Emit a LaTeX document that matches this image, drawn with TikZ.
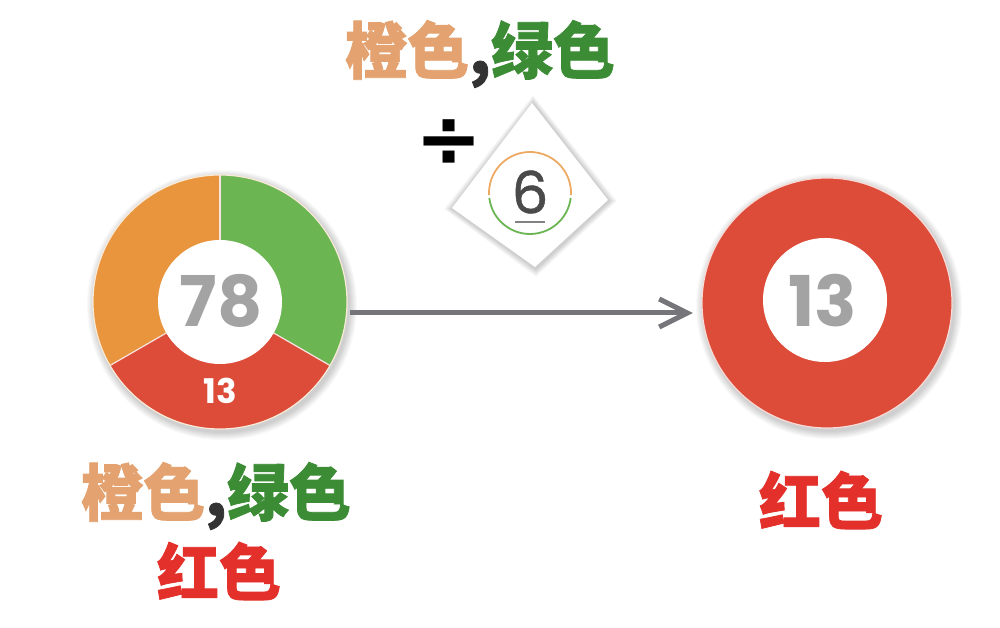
\documentclass[tikz,border=0pt]{standalone}
\usepackage{fontspec}
\newfontfamily\cjk[FakeBold=1.2]{Noto Sans CJK SC}
\newfontfamily\numf{Poppins}
\newfontfamily\numsix[FakeBold=0.8]{Poppins}
\newfontfamily\symf{DejaVu Sans}
\usetikzlibrary{arrows.meta,calc}
\definecolor{segorange}{HTML}{E8953D}
\definecolor{seggreen}{HTML}{6BB553}
\definecolor{segred}{HTML}{DD4B39}
\definecolor{txtorange}{HTML}{E3A26F}
\definecolor{txtgreen}{HTML}{3C8C35}
\definecolor{txtred}{HTML}{E3302A}
\definecolor{numgray}{HTML}{A3A3A3}
\definecolor{arrowgray}{HTML}{75757A}
\definecolor{darkgray6}{HTML}{4A4A4A}
\tikzset{
  donut/.style={circle,minimum size=#1,inner sep=0pt},
  cjktxt/.style={font=\cjk\bfseries\fontsize{62}{62}\selectfont,inner sep=0pt},
  bignum/.style={font=\numf\bfseries\fontsize{70}{70}\selectfont,text=numgray,inner sep=0pt},
  conn/.style={draw=arrowgray,line width=5pt,-{Straight Barb[length=28pt,width=28pt]}},
}
\begin{document}
\begin{tikzpicture}[x=1pt,y=1pt]
\useasboundingbox (0,0) rectangle (1000,628);
\fill[white] (0,0) rectangle (1000,628);
% ---------- left donut ----------
\node[donut=254pt] (ld) at (220,326) {};
\foreach \i in {1,...,8}{
  \fill[black,opacity=0.022] ($(ld.center)+(2,-3)$) circle[radius=127+\i];
}
\fill[seggreen] (ld.center) -- ++(-30:127) arc[start angle=-30,end angle=90,radius=127] -- cycle;
\fill[segorange] (ld.center) -- ++(90:127) arc[start angle=90,end angle=210,radius=127] -- cycle;
\fill[segred] (ld.center) -- ++(210:127) arc[start angle=210,end angle=330,radius=127] -- cycle;
\foreach \a in {90,210,330}{
  \draw[white!85!segred,line width=1.2pt] (ld.center) -- ++(\a:127);
}
\draw[white!80!segorange,line width=1.2pt] (ld.center) circle[radius=127];
\fill[white] (ld.center) circle[radius=62];
\node[bignum] (n78) at (221,327) {78};
\node[font=\numf\bfseries\fontsize{34}{34}\selectfont,text=white,inner sep=0pt] (n13a) at (220,237) {13};
% ---------- right donut ----------
\node[donut=250pt] (rd) at (827,325) {};
\foreach \i in {1,...,8}{
  \fill[black,opacity=0.022] ($(rd.center)+(2,-3)$) circle[radius=125+\i];
}
\fill[segred] (rd.center) circle[radius=125];
\draw[white!80!segred,line width=1.2pt] (rd.center) circle[radius=125];
\fill[white] ($(rd.center)+(-2,3)$) circle[radius=62];
\node[bignum] (n13b) at (823,327) {13};
% ---------- arrow ----------
\draw[conn] ([yshift=-11pt,xshift=3pt]ld.east) -- ([yshift=-10pt,xshift=-9pt]rd.west);
% ---------- diamond ----------
\coordinate (dt) at (532,525);
\coordinate (dr) at (608,428);
\coordinate (db) at (535,361);
\coordinate (dl) at (452,420);
\foreach \i in {1,...,8}{
  \fill[black,opacity=0.025] ($(dt)+(1,\i)$) -- ($(dr)+(\i+1,-1)$) -- ($(db)+(1,-\i-2)$) -- ($(dl)+(-\i,-1)$) -- cycle;
}
\fill[white] (dt) -- (dr) -- (db) -- (dl) -- cycle;
\node[circle,minimum size=82pt,inner sep=0pt] (dc) at (530,435) {};
\draw[segorange!80!white,line width=1.8pt] ($(dc.center)+(183:41)$) arc[start angle=183,end angle=-3,radius=41];
\draw[seggreen,line width=1.8pt] ($(dc.center)+(187:41)$) arc[start angle=187,end angle=353,radius=41];
\node[font=\numsix\fontsize{58}{58}\selectfont,text=darkgray6,inner sep=0pt] (n6) at (530,436) {6};
\draw[numgray!80!black,line width=2.2pt] (515,406) -- (545,406);
% ---------- divide sign ----------
\node[font=\symf\bfseries\fontsize{80}{80}\selectfont,inner sep=0pt] (div) at (449,485) {÷};
% ---------- texts ----------
\node[cjktxt] (ttop) at (480,574) {\textcolor{txtorange}{橙色}\textcolor{black!80}{,}\textcolor{txtgreen}{绿色}};
\node[cjktxt] (tl1) at (216,132) {\textcolor{txtorange}{橙色}\textcolor{black!80}{,}\textcolor{txtgreen}{绿色}};
\node[cjktxt,text=txtred] (tl2) at (219,57) {红色};
\node[cjktxt,text=txtred] (tr) at (821,128) {红色};
\end{tikzpicture}
\end{document}
